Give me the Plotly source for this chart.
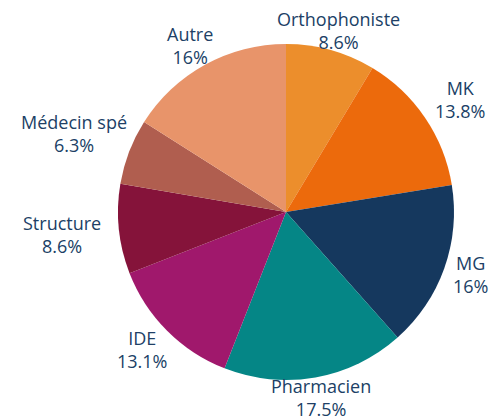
import math
import plotly.graph_objects as go

labels = ["Orthophoniste", "MK", "MG", "Pharmacien", "IDE", "Structure", "Médecin spé", "Autre"]
values = [8.6, 13.8, 16, 17.5, 13.1, 8.6, 6.3, 16]
colors = ["#EC8E2C", "#EC6A0C", "#15385E", "#058686", "#A0186C", "#85133A", "#B05E4F", "#E8946A"]

W, H = 501, 420
# page body has an 8px margin, so figure coords are offset by 8px from the window
CX, CY, R = 278, 204, 168
FONT = dict(family="Open Sans", size=18, color="#203F66")

fig = go.Figure(go.Pie(
    labels=labels, values=values, sort=False, direction="clockwise", rotation=0,
    marker=dict(colors=colors, line=dict(width=0)),
    textinfo="none", hoverinfo="label+value", showlegend=False,
    domain=dict(x=[(CX - R) / W, (CX + R) / W], y=[1 - (CY + R) / H, 1 - (CY - R) / H]),
))

# outside labels, placed along each slice's mid-angle
total = sum(values)
cum = 0.0
gap_x, gap_y, hh, cw = 12, 3, 17, 5.0
for lab, v in zip(labels, values):
    mid = (cum + v / 2) / total * 2 * math.pi
    cum += v
    s, c = math.sin(mid), math.cos(mid)
    txt = f"{lab}<br>{v:g}%"
    hw = max(len(lab), len(f"{v:g}%")) * cw
    d = min(hw / abs(s) if abs(s) > 1e-6 else 1e9, hh / abs(c) if abs(c) > 1e-6 else 1e9)
    px = CX + (R + gap_x + d) * s
    py = CY - (R + gap_y + d) * c
    fig.add_annotation(x=px / W, y=1 - py / H, xref="paper", yref="paper",
                       text=txt, showarrow=False, xanchor="center", yanchor="middle",
                       font=FONT, align="center")

fig.update_layout(width=W, height=H, margin=dict(l=0, r=0, t=0, b=0),
                  paper_bgcolor="white", plot_bgcolor="white")
fig.write_html("out.html")
